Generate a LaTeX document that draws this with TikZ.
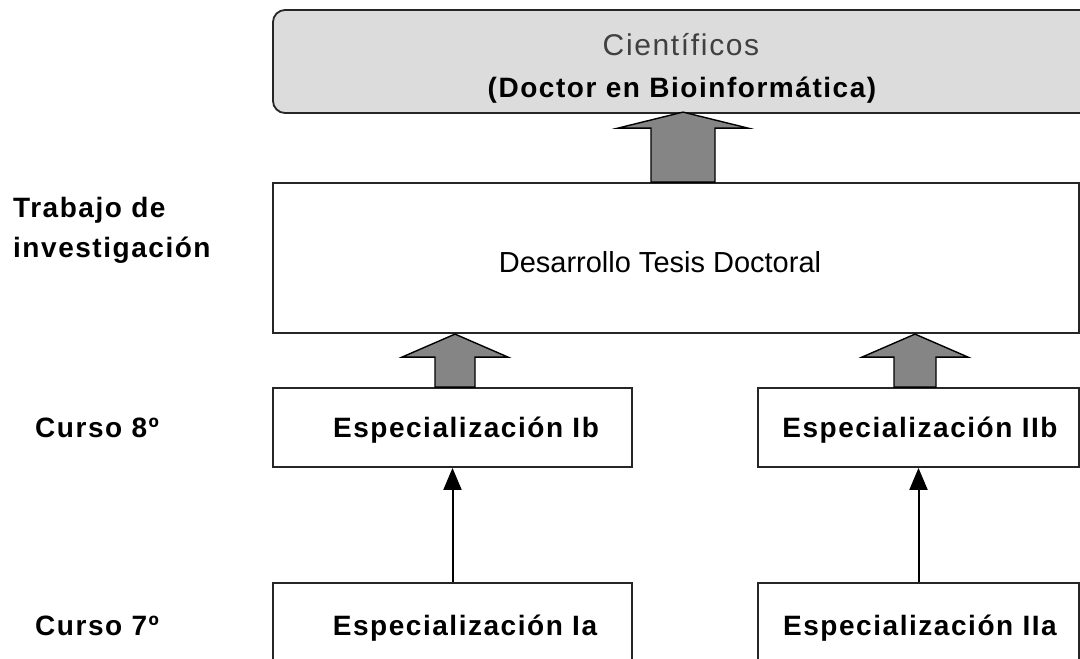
\documentclass[tikz,border=0pt]{standalone}
\usepackage{fontspec}
\setmainfont{Liberation Sans}
\newfontfamily\wsp[LetterSpace=5.5]{Liberation Sans}
\usetikzlibrary{arrows.meta,calc}
\definecolor{topfill}{HTML}{DCDCDC}
\definecolor{arrfill}{HTML}{858585}
\definecolor{edge}{HTML}{262626}
\definecolor{softtext}{HTML}{404040}
\tikzset{
  box/.style={draw=edge, line width=1.8pt, fill=white, rectangle, inner sep=0pt},
  topbox/.style={draw=edge, line width=1.8pt, fill=topfill, rectangle, rounded corners=12pt, inner sep=0pt},
  widearrow/.style={draw=black, line width=1.4pt, fill=arrfill, line join=miter},
  thinarrow/.style={draw=black, line width=2pt, -{Triangle[length=22pt,width=18pt]}},
  boldlbl/.style={inner sep=0pt, font=\wsp\bfseries\fontsize{28}{40}\selectfont},
  bigtxt/.style={inner sep=0pt, font=\fontsize{29}{34}\selectfont}
}
\begin{document}
\begin{tikzpicture}[x=1pt,y=-1pt]
\useasboundingbox (0,0) rectangle (1080,659);
\clip (0,0) rectangle (1080,659);
\fill[white] (0,0) rectangle (1080,659);

% boxes
\node[topbox, minimum width=822pt, minimum height=103pt] (cient) at (684,61.5) {};
\node[box, minimum width=806pt, minimum height=150pt] (des) at (676,258) {};
\node[box, minimum width=359pt, minimum height=79pt] (ib) at (452.5,427.5) {};
\node[box, minimum width=321pt, minimum height=79pt] (iib) at (918.5,427.5) {};
\node[box, minimum width=359pt, minimum height=117pt] (ia) at (452.5,641.5) {};
\node[box, minimum width=321pt, minimum height=117pt] (iia) at (918.5,641.5) {};

% texts
\node[inner sep=0pt, anchor=base, text=softtext, font=\wsp\fontsize{30}{36}\selectfont] (tcient) at (681,55) {Científicos};
\node[boldlbl, anchor=base] (tdoctor) at (682,97) {(Doctor en Bioinformática)};
\node[bigtxt, anchor=base] (tdes) at (660,272) {Desarrollo Tesis Doctoral};
\node[boldlbl, anchor=base west, align=left] (ttrab) at (13,257) {Trabajo de\\investigación};
\node[boldlbl, anchor=base west] (tc8) at (35,437) {Curso 8º};
\node[boldlbl, anchor=base west] (tc7) at (35,635) {Curso 7º};
\node[boldlbl, anchor=base] (tib) at (466,437) {Especialización Ib};
\node[boldlbl, anchor=base] (tiib) at (920,437) {Especialización IIb};
\node[boldlbl, anchor=base] (tia) at (465,635) {Especialización Ia};
\node[boldlbl, anchor=base] (tiia) at (920,635) {Especialización IIa};

% wide arrows
\draw[widearrow] ($(des.north)+(-25,0)$) -- ++(0,-54) -- ++(-33,0) -- ++(65,-16) -- ++(65,16) -- ++(-33,0) -- ++(0,54) -- cycle;
\draw[widearrow] ($(ib.north)+(-17.5,0)$) -- ++(0,-30) -- ++(-33,0) -- ++(53,-23) -- ++(53,23) -- ++(-33,0) -- ++(0,30) -- cycle;
\draw[widearrow] ($(iib.north)+(-24.5,0)$) -- ++(0,-30) -- ++(-32,0) -- ++(53,-23) -- ++(53,23) -- ++(-32,0) -- ++(0,30) -- cycle;

% thin arrows
\draw[thinarrow] (ia.north) -- (ib.south);
\draw[thinarrow] (iia.north) -- (iib.south);
\end{tikzpicture}
\end{document}
